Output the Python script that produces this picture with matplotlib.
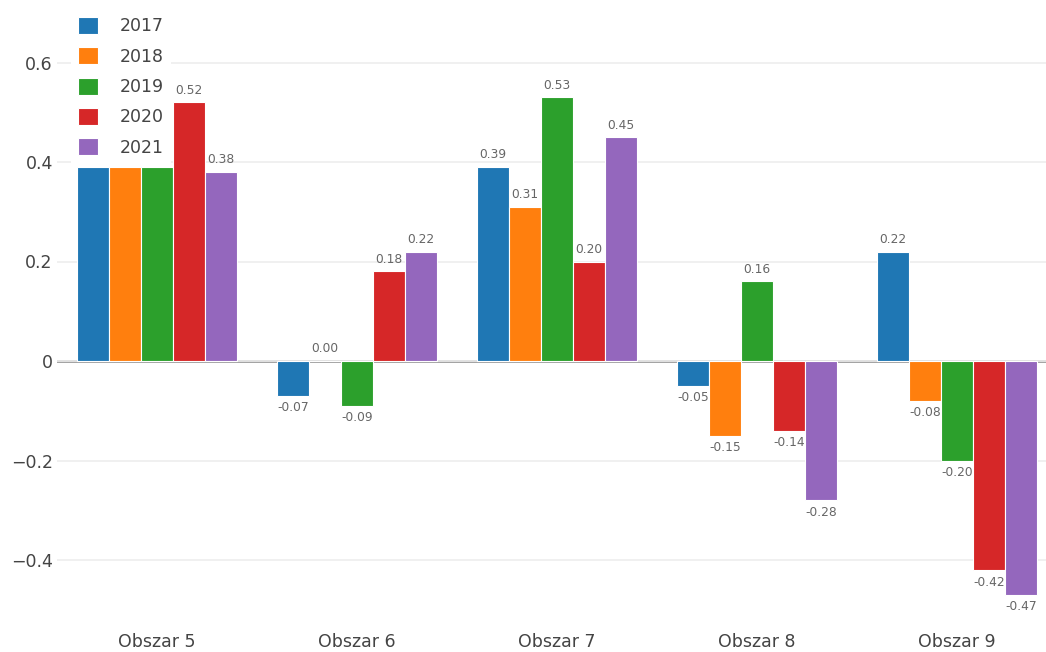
import numpy as np
from matplotlib import pyplot as plt
from matplotlib.patches import Patch

# data
obszary = ['Obszar 5', 'Obszar 6', 'Obszar 7', 'Obszar 8', 'Obszar 9']
lata = ['2017', '2018', '2019', '2020', '2021']
v2017 = [0.39, -0.07, 0.39, -0.05, 0.22]
v2018 = [0.39, 0.00, 0.31, -0.15, -0.08]
v2019 = [0.39, -0.09, 0.53, 0.16, -0.20]
v2020 = [0.52, 0.18, 0.20, -0.14, -0.42]
v2021 = [0.38, 0.22, 0.45, -0.28, -0.47]
serie = [v2017, v2018, v2019, v2020, v2021]
kolory = ['#1f77b4', '#ff7f0e', '#2ca02c', '#d62728', '#9467bd']

yticks = [-0.4, -0.2, 0, 0.2, 0.4, 0.6]
ylabels = ['\u22120.4', '\u22120.2', '0', '0.2', '0.4', '0.6']

W, H = 1046, 652
fig = plt.figure(figsize=(W / 100, H / 100), dpi=100)
ax = fig.add_axes([57 / W, 1 - 615 / H, 1 - 57 / W, (615 - 10) / H])

x = np.arange(len(obszary))
slot = 0.16
etykiety = []
for i, (vals, kol) in enumerate(zip(serie, kolory)):
    pos = x + (i - 2) * slot
    ax.bar(pos, vals, width=slot, color=kol, edgecolor='white', linewidth=0.8, zorder=2)
    for px, v in zip(pos, vals):
        if v >= 0:
            t = ax.annotate('%.2f' % v, (px, v), xytext=(0, 4), textcoords='offset points',
                            ha='center', va='bottom', fontsize=8.8, color='#666666', zorder=3)
        else:
            t = ax.annotate('%.2f' % v, (px, v), xytext=(0, -4), textcoords='offset points',
                            ha='center', va='top', fontsize=8.8, color='#666666', zorder=3)
        etykiety.append(t)

ax.set_xlim(-0.5, -0.5 + (W - 57) / 200)
ax.set_ylim((361 - 615) / 497.5, (361 - 10) / 497.5)
ax.set_xticks(x)
ax.set_xticklabels(obszary)
ax.set_yticks(yticks)
ax.set_yticklabels(ylabels)
ax.tick_params(axis='both', length=0, labelsize=12.5, labelcolor='#444444')
ax.tick_params(axis='x', pad=13)
ax.tick_params(axis='y', pad=3)
for s in ax.spines.values():
    s.set_visible(False)
ax.grid(axis='y', color='#eeeeee', linewidth=1.2, zorder=0)
ax.axhline(0, color='#999999', linewidth=2, zorder=1)

handles = [Patch(facecolor=k, edgecolor='white', linewidth=0.8) for k in kolory]
leg = ax.legend(handles, lata, loc='upper left', bbox_to_anchor=(71 / W, 1 - 10 / H),
                bbox_transform=fig.transFigure, borderaxespad=0, borderpad=0.4,
                fontsize=12.5, labelcolor='#444444', handlelength=1.15, handleheight=1.15,
                handletextpad=1.25, labelspacing=0.68, frameon=True, facecolor='white',
                edgecolor='none', framealpha=1, fancybox=False)
leg.set_zorder(10)

# labels covered by the legend box are not shown (as in the original)
fig.canvas.draw()
r = fig.canvas.get_renderer()
lb = leg.get_window_extent(r)
for t in etykiety:
    if t.get_window_extent(r).overlaps(lb):
        t.set_visible(False)

plt.savefig('out.png', dpi=100, facecolor='white')
